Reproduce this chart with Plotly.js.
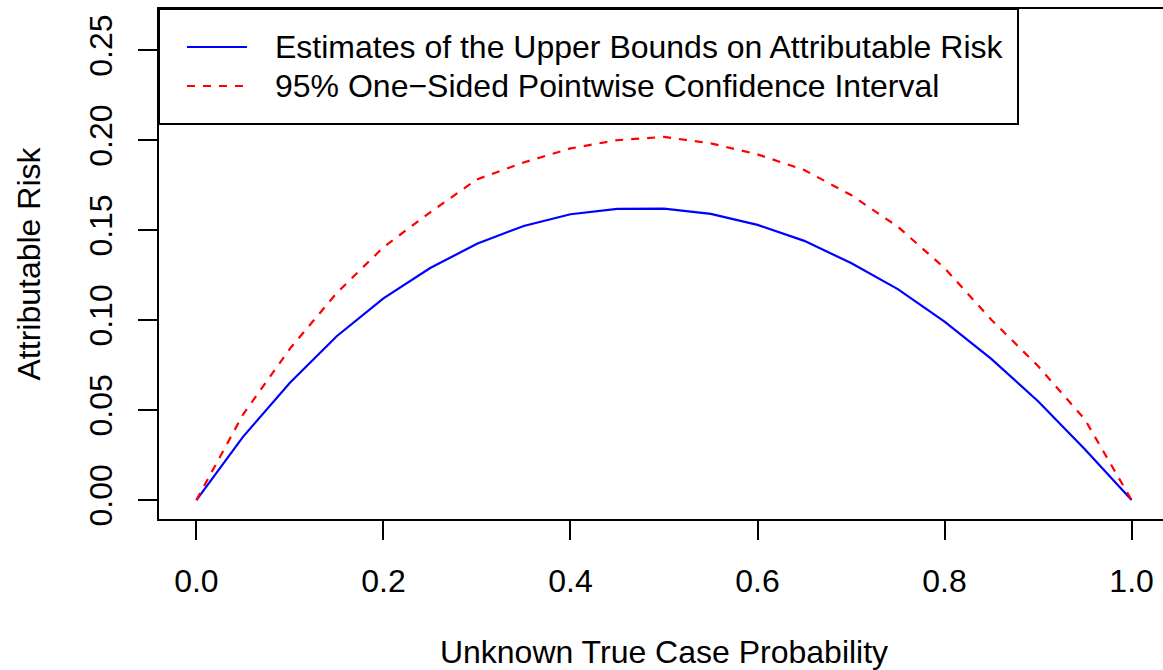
<!DOCTYPE html>
<html>
<head>
<meta charset="utf-8">
<script src="https://cdn.plot.ly/plotly-3.0.1.min.js"></script>
<style>
  html, body { margin: 0; padding: 0; overflow: hidden; background: #fff; }
  #chart { width: 1169px; height: 670px; }
</style>
</head>
<body>
<div id="chart"></div>
<script>
// Data
const caseProb = [0, 0.05, 0.10, 0.15, 0.20, 0.25, 0.30, 0.35, 0.40, 0.45, 0.50,
                  0.55, 0.60, 0.65, 0.70, 0.75, 0.80, 0.85, 0.90, 0.95, 1.00];
const upperBound = [0, 0.0353, 0.0652, 0.0911, 0.1121, 0.1290, 0.1425, 0.1524, 0.1589, 0.1619, 0.1620,
                    0.1591, 0.1530, 0.1441, 0.1318, 0.1173, 0.0992, 0.0785, 0.0550, 0.0283, 0];
const confLimit = [0, 0.0477, 0.0842, 0.1151, 0.1406, 0.1600, 0.1783, 0.1877, 0.1955, 0.2001, 0.2019,
                   0.1983, 0.1922, 0.1835, 0.1696, 0.1520, 0.1290, 0.1003, 0.0745, 0.0449, 0];
const seriesNames = ["Estimates of the Upper Bounds on Attributable Risk",
                     "95% One\u2212Sided Pointwise Confidence Interval"];
const xTickVals = [0, 0.2, 0.4, 0.6, 0.8, 1.0];
const xTickText = ["0.0", "0.2", "0.4", "0.6", "0.8", "1.0"];
const yTickVals = [0, 0.05, 0.10, 0.15, 0.20, 0.25];
const yTickText = ["0.00", "0.05", "0.10", "0.15", "0.20", "0.25"];
const xTitle = "Unknown True Case Probability";
const yTitle = "Attributable Risk";

const FONT = "'Liberation Sans', Arial, Helvetica, sans-serif";
const FS = 32;

const traces = [
  { x: caseProb, y: upperBound, type: "scatter", mode: "lines", name: seriesNames[0],
    line: { color: "#0000FF", width: 2.2 }, showlegend: false },
  { x: caseProb, y: confLimit, type: "scatter", mode: "lines", name: seriesNames[1],
    line: { color: "#FF0000", width: 2.2, dash: "8px,8px" }, showlegend: false }
];

// Legend box geometry (paper coordinates)
const legTop = 1, legBottom = 0.7745, legRight = 0.8505;
const rowY = [0.9255, 0.849];
const sampleX0 = 0.0277, sampleX1 = 0.0871, textX = 0.1129;

const layout = {
  width: 1169, height: 670,
  margin: { l: 159, r: 0, t: 9, b: 151 },
  paper_bgcolor: "#fff", plot_bgcolor: "#fff",
  font: { family: FONT, size: FS, color: "#000" },
  xaxis: {
    range: [-0.04, 1.04], showgrid: false, zeroline: false,
    showline: true, mirror: true, linecolor: "#000", linewidth: 2,
    ticks: "outside", ticklen: 19, tickwidth: 2, tickcolor: "#000",
    tickvals: xTickVals, ticktext: xTickText,
    tickfont: { family: FONT, size: FS }, ticklabelstandoff: 14,
    title: { text: xTitle, font: { family: FONT, size: FS }, standoff: 47 }
  },
  yaxis: {
    range: [-0.0105, 0.273], showgrid: false, zeroline: false,
    showline: true, mirror: true, linecolor: "#000", linewidth: 2,
    ticks: "outside", ticklen: 19, tickwidth: 2, tickcolor: "#000",
    tickvals: yTickVals, ticktext: yTickText, tickangle: -90,
    tickfont: { family: FONT, size: FS }, ticklabelstandoff: 13,
    title: { text: yTitle, font: { family: FONT, size: FS }, standoff: 33 }
  },
  shapes: [
    { type: "rect", xref: "paper", yref: "paper", x0: 0, x1: legRight, y0: legBottom, y1: legTop,
      line: { color: "#000", width: 2 }, fillcolor: "rgba(255,255,255,0)", layer: "above" },
    { type: "line", xref: "paper", yref: "paper", x0: sampleX0, x1: sampleX1, y0: rowY[0], y1: rowY[0],
      line: { color: "#0000FF", width: 2.2 } },
    { type: "line", xref: "paper", yref: "paper", x0: sampleX0, x1: sampleX1, y0: rowY[1], y1: rowY[1],
      line: { color: "#FF0000", width: 2.2, dash: "8px,8px" } }
  ],
  annotations: [
    { xref: "paper", yref: "paper", x: textX, y: rowY[0], xanchor: "left", yanchor: "middle",
      text: seriesNames[0], showarrow: false, font: { family: FONT, size: FS } },
    { xref: "paper", yref: "paper", x: textX, y: rowY[1], xanchor: "left", yanchor: "middle",
      text: seriesNames[1], showarrow: false, font: { family: FONT, size: FS } }
  ],
  showlegend: false
};

Plotly.newPlot("chart", traces, layout, { displayModeBar: false, staticPlot: true });
</script>
</body>
</html>
